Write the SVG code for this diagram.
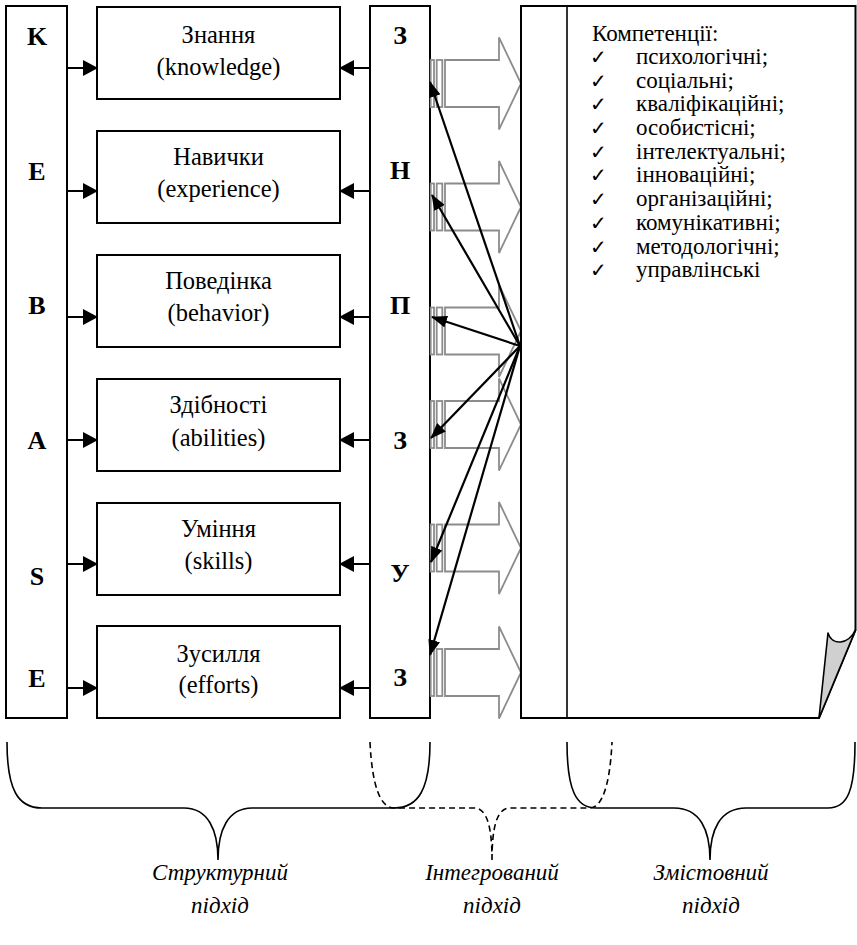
<svg xmlns="http://www.w3.org/2000/svg" width="857" height="945" viewBox="0 0 857 945">
<style>
.col{fill:#fff;stroke:#000;stroke-width:2}
.box{fill:#fff;stroke:#000;stroke-width:2}
text{font-family:"Liberation Serif","Times New Roman","DejaVu Serif",serif}
.t{font-size:24.5px;fill:#000;text-anchor:middle}
.b{font-size:26px;font-weight:bold;fill:#000;text-anchor:middle}
.l{font-size:23px;fill:#000}
.ck text{font-family:"DejaVu Sans",sans-serif;font-size:20px;fill:#000}
.cap{font-size:23px;font-style:italic;fill:#000;text-anchor:middle}
.ln{stroke:#000;stroke-width:2;fill:none}
.fan{stroke:#000;stroke-width:2.2;fill:none}
.ga{fill:none;stroke:#8c8c8c;stroke-width:1.8}
.br{fill:none;stroke:#000;stroke-width:1.6}
.brd{fill:none;stroke:#000;stroke-width:1.6;stroke-dasharray:6,4}
</style>
<defs>
<marker id="ah" viewBox="0 0 15 16" refX="14" refY="8" markerWidth="15" markerHeight="16" markerUnits="userSpaceOnUse" orient="auto"><path d="M0,0 L15,8 L0,16 z" fill="#000"/></marker>
<marker id="fh" viewBox="0 0 16 12" refX="15" refY="6" markerWidth="16" markerHeight="12" markerUnits="userSpaceOnUse" orient="auto"><path d="M0,0 L16,6 L0,12 z" fill="#000"/></marker>
</defs>

<g id="kbase">
<rect class="col" x="6" y="6" width="61" height="712"/>
<text class="b" x="37" y="45">K</text>
<text class="b" x="37" y="180">E</text>
<text class="b" x="37" y="314">B</text>
<text class="b" x="37" y="449">A</text>
<text class="b" x="37" y="585">S</text>
<text class="b" x="37" y="687">E</text>
</g>

<g id="box1"><rect class="box" x="97" y="7" width="243" height="92"/><text class="t" x="218.5" y="43">Знання</text><text class="t" x="218.5" y="75">(knowledge)</text></g>
<g id="box2"><rect class="box" x="97" y="131" width="243" height="92"/><text class="t" x="218.5" y="165">Навички</text><text class="t" x="218.5" y="197">(experience)</text></g>
<g id="box3"><rect class="box" x="97" y="255" width="243" height="92"/><text class="t" x="218.5" y="289">Поведінка</text><text class="t" x="218.5" y="321">(behavior)</text></g>
<g id="box4"><rect class="box" x="97" y="379" width="243" height="92"/><text class="t" x="218.5" y="413">Здібності</text><text class="t" x="218.5" y="446">(abilities)</text></g>
<g id="box5"><rect class="box" x="97" y="503" width="243" height="92"/><text class="t" x="218.5" y="537">Уміння</text><text class="t" x="218.5" y="569">(skills)</text></g>
<g id="box6"><rect class="box" x="97" y="626" width="243" height="92"/><text class="t" x="218.5" y="662">Зусилля</text><text class="t" x="218.5" y="693">(efforts)</text></g>

<g id="zcol">
<rect class="col" x="370" y="6" width="60" height="712"/>
<text class="b" x="400" y="44">З</text>
<text class="b" x="400" y="179">Н</text>
<text class="b" x="400" y="314">П</text>
<text class="b" x="400" y="449">З</text>
<text class="b" x="400" y="582">У</text>
<text class="b" x="400" y="686">З</text>
</g>

<g id="blockarrows">
<g transform="translate(0,83.5)"><rect class="ga" x="430.7" y="-23.5" width="3.3" height="47"/><rect class="ga" x="436.7" y="-23.5" width="5.6" height="47"/><path class="ga" d="M445,-23.5 H499 V-46 L521,0 L499,46 V23.5 H445 Z"/></g>
<g transform="translate(0,207)"><rect class="ga" x="430.7" y="-23.5" width="3.3" height="47"/><rect class="ga" x="436.7" y="-23.5" width="5.6" height="47"/><path class="ga" d="M445,-23.5 H499 V-46 L521,0 L499,46 V23.5 H445 Z"/></g>
<g transform="translate(0,331)"><rect class="ga" x="430.7" y="-23.5" width="3.3" height="47"/><rect class="ga" x="436.7" y="-23.5" width="5.6" height="47"/><path class="ga" d="M445,-23.5 H499 V-46 L521,0 L499,46 V23.5 H445 Z"/></g>
<g transform="translate(0,424.5)"><rect class="ga" x="430.7" y="-23.5" width="3.3" height="47"/><rect class="ga" x="436.7" y="-23.5" width="5.6" height="47"/><path class="ga" d="M445,-23.5 H499 V-46 L521,0 L499,46 V23.5 H445 Z"/></g>
<g transform="translate(0,548)"><rect class="ga" x="430.7" y="-23.5" width="3.3" height="47"/><rect class="ga" x="436.7" y="-23.5" width="5.6" height="47"/><path class="ga" d="M445,-23.5 H499 V-46 L521,0 L499,46 V23.5 H445 Z"/></g>
<g transform="translate(0,672.5)"><rect class="ga" x="430.7" y="-23.5" width="3.3" height="47"/><rect class="ga" x="436.7" y="-23.5" width="5.6" height="47"/><path class="ga" d="M445,-23.5 H499 V-46 L521,0 L499,46 V23.5 H445 Z"/></g>
</g>

<g id="page">
<path d="M521,6 H855.5 V630 L819,718 H521 Z" fill="#fff" stroke="#000" stroke-width="2"/>
<path d="M855.5,630 C848,645 832,646 828,633 L819,718 Z" fill="#d0d0d0" stroke="#000" stroke-width="1.6" stroke-linejoin="round"/>
<line x1="567" y1="6" x2="567" y2="718" stroke="#000" stroke-width="1.6"/>
<text class="l" x="592" y="41">Компетенції:</text>
<g class="ck">
<text x="590" y="64">✓</text><text x="590" y="88">✓</text><text x="590" y="111">✓</text><text x="590" y="135">✓</text><text x="590" y="159">✓</text><text x="590" y="182">✓</text><text x="590" y="206">✓</text><text x="590" y="230">✓</text><text x="590" y="254">✓</text><text x="590" y="277">✓</text>
</g>
<text class="l" x="636" y="64">психологічні;</text>
<text class="l" x="636" y="88">соціальні;</text>
<text class="l" x="636" y="111">кваліфікаційні;</text>
<text class="l" x="636" y="135">особистісні;</text>
<text class="l" x="636" y="159">інтелектуальні;</text>
<text class="l" x="636" y="182">інноваційні;</text>
<text class="l" x="636" y="206">організаційні;</text>
<text class="l" x="636" y="230">комунікативні;</text>
<text class="l" x="636" y="254">методологічні;</text>
<text class="l" x="636" y="277">управлінські</text>
</g>

<g id="connectors">
<line class="ln" x1="67" y1="68" x2="97" y2="68" marker-end="url(#ah)"/>
<line class="ln" x1="67" y1="191" x2="97" y2="191" marker-end="url(#ah)"/>
<line class="ln" x1="67" y1="317" x2="97" y2="317" marker-end="url(#ah)"/>
<line class="ln" x1="67" y1="440" x2="97" y2="440" marker-end="url(#ah)"/>
<line class="ln" x1="67" y1="564" x2="97" y2="564" marker-end="url(#ah)"/>
<line class="ln" x1="67" y1="688" x2="97" y2="688" marker-end="url(#ah)"/>
<line class="ln" x1="370" y1="68" x2="340" y2="68" marker-end="url(#ah)"/>
<line class="ln" x1="370" y1="191" x2="340" y2="191" marker-end="url(#ah)"/>
<line class="ln" x1="370" y1="317" x2="340" y2="317" marker-end="url(#ah)"/>
<line class="ln" x1="370" y1="440" x2="340" y2="440" marker-end="url(#ah)"/>
<line class="ln" x1="370" y1="564" x2="340" y2="564" marker-end="url(#ah)"/>
<line class="ln" x1="370" y1="688" x2="340" y2="688" marker-end="url(#ah)"/>
<line class="fan" x1="520" y1="346" x2="430" y2="82" marker-end="url(#fh)"/>
<line class="fan" x1="520" y1="346" x2="432" y2="195" marker-end="url(#fh)"/>
<line class="fan" x1="520" y1="346" x2="432" y2="317" marker-end="url(#fh)"/>
<line class="fan" x1="520" y1="346" x2="431" y2="438" marker-end="url(#fh)"/>
<line class="fan" x1="520" y1="346" x2="431" y2="562" marker-end="url(#fh)"/>
<line class="fan" x1="520" y1="346" x2="430" y2="655" marker-end="url(#fh)"/>
</g>

<g id="braces">
<path class="br" d="M7,742 C7,790 18,808 42,808 L184,808 C208,808 218,830 218,860 C218,830 228,808 252,808 L394,808 C418,808 430,790 430,742"/>
<path class="brd" d="M370,742 C372,785 380,808 394,808 L474,808 C488,808 492,830 492,860 M492,860 C492,830 496,808 510,808 L590,808 C602,808 610,785 612,742"/>
<path class="br" d="M567,742 C567,790 576,808 596,808 L674,808 C700,808 710,830 710,860 C710,830 720,808 746,808 L828,808 C848,808 855,790 855,742"/>
</g>

<g id="captions">
<text class="cap" x="220" y="880">Структурний</text>
<text class="cap" x="220" y="913">підхід</text>
<text class="cap" x="492" y="880">Інтегрований</text>
<text class="cap" x="492" y="913">підхід</text>
<text class="cap" x="711" y="880">Змістовний</text>
<text class="cap" x="711" y="913">підхід</text>
</g>
</svg>
